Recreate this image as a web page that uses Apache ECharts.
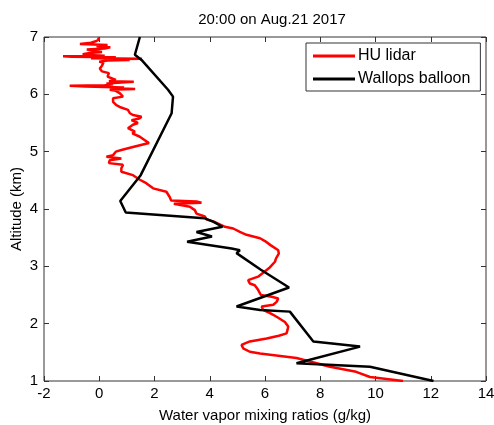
<!DOCTYPE html>
<html>
<head>
<meta charset="utf-8">
<script src="https://cdn.jsdelivr.net/npm/echarts@6/dist/echarts.min.js"></script>
<style>
  html, body { margin: 0; padding: 0; background: #fff; }
  #chart { width: 494px; height: 425px; }
</style>
</head>
<body>
<div id="chart"></div>
<script>
// HU lidar profile: altitude (km) and water vapor mixing ratio (g/kg)
const lidarAlt = [
  1.00, 1.07, 1.16, 1.25, 1.31, 1.40, 1.48, 1.51, 1.57, 1.60, 1.63, 1.69, 1.74, 1.79, 1.83, 1.90,
  1.95, 2.03, 2.12, 2.18, 2.24, 2.27, 2.30, 2.33, 2.38, 2.44, 2.47, 2.50, 2.59, 2.67, 2.70, 2.76,
  2.82, 2.91, 2.97, 3.08, 3.14, 3.22, 3.28, 3.37, 3.44, 3.49, 3.55, 3.60, 3.66, 3.69, 3.78, 3.82,
  3.87, 3.92, 3.98, 4.04, 4.06, 4.09, 4.11, 4.13, 4.15, 4.21, 4.30, 4.36, 4.45, 4.51, 4.59, 4.65,
  4.71, 4.77, 4.80, 4.85, 4.88, 4.91, 4.94, 4.97, 5.00, 5.03, 5.09, 5.15, 5.17, 5.20, 5.26, 5.32,
  5.35, 5.41, 5.44, 5.47, 5.50, 5.55, 5.58, 5.61, 5.64, 5.67, 5.73, 5.76, 5.78, 5.81, 5.87, 5.90,
  5.93, 5.96, 5.99, 6.02, 6.06, 6.08, 6.095, 6.105, 6.12, 6.135, 6.15, 6.16, 6.175, 6.19, 6.205, 6.22,
  6.23, 6.25, 6.28, 6.31, 6.34, 6.37, 6.40, 6.45, 6.50, 6.55, 6.57, 6.59, 6.60, 6.61, 6.62, 6.63,
  6.645, 6.655, 6.665, 6.675, 6.685, 6.70, 6.72, 6.74, 6.76, 6.78, 6.80, 6.82, 6.84, 6.86, 6.88, 6.90,
  6.93, 6.96, 6.99, 7.00
];
const lidarWv = [
  11.0, 9.8, 9.3, 8.35, 7.87, 7.14, 5.82, 5.45, 5.21, 5.2, 5.15, 5.45, 6.06, 6.5, 6.78, 6.82,
  6.84, 6.72, 6.42, 6.2, 5.93, 5.9, 5.88, 6.3, 6.42, 6.48, 6.24, 5.85, 5.75, 5.63, 5.45, 5.39,
  5.75, 5.99, 6.15, 6.36, 6.4, 6.5, 6.48, 6.2, 6.0, 5.82, 5.33, 5.09, 4.85, 4.55, 4.15, 3.88,
  3.82, 3.52, 3.46, 3.28, 3.04, 2.7, 3.7, 3.52, 2.6, 2.55, 2.43, 1.95, 1.7, 1.47, 1.22, 0.80,
  0.8, 0.86, 0.35, 0.38, 0.80, 0.26, 0.5, 0.5, 0.6, 0.80, 1.29, 1.8, 1.77, 1.65, 1.47, 1.2,
  1.29, 1.04, 1.11, 1.22, 1.4, 1.17, 1.45, 1.53, 1.22, 1.11, 1.04, 1.0, 0.74, 0.62, 0.5, 0.5,
  0.5, 0.86, 0.80, 0.74, 0.6, 0.38, 1.3, 0.5, 0.9, -0.5, -1.07, 0.2, 0.5, 0.26, 0.8, 1.25,
  0.35, 0.6, 0.62, 0.3, 0.3, 0.35, 0.1, 0.02, 0.1, 0.15, 0.0, 0.3, 1.1, 0.2, 1.55, -0.3,
  0.6, -1.0, -1.31, 0.2, -0.4, -0.6, -0.35, 0.1, -0.2, -0.45, 0.2, 0.4, -0.1, 0.3, -0.7, -0.3,
  -0.1, 0.0, -0.05, -0.04
];

// Wallops balloon sounding: altitude (km) and water vapor mixing ratio (g/kg)
const balloonAlt = [
  1.00, 1.25, 1.31, 1.34, 1.60, 1.69, 2.21, 2.24, 2.30, 2.63, 2.94, 3.23, 3.28, 3.31, 3.43, 3.52,
  3.60, 3.69, 3.78, 3.84, 3.94, 4.14, 4.59, 5.67, 5.96, 6.08, 6.60, 6.69, 7.00
];
const balloonWv = [
  12.1, 9.8, 7.14, 7.08, 9.44, 7.75, 6.9, 5.82, 4.97, 6.87, 5.85, 4.97, 5.09, 4.79, 3.18, 4.08,
  3.52, 4.46, 4.12, 3.8, 0.96, 0.76, 1.5, 2.62, 2.67, 2.49, 1.53, 1.29, 1.47
];

const xTicks = { min: -2, max: 14, interval: 2 };
const yTicks = { min: 1, max: 7, interval: 1 };

const seriesNames = ['HU lidar', 'Wallops balloon'];
const titleText = '20:00 on Aug.21 2017';
const xTitle = 'Water vapor mixing ratios (g/kg)';
const yTitle = 'Altitude (km)';

const pairs = (xs, ys) => xs.map((x, i) => [x, ys[i]]);

const font = 'Liberation Sans, Arial, sans-serif';
const frameColor = '#333';

const tickInside = { show: true, inside: true, length: 5, lineStyle: { color: frameColor, width: 1 } };
const noLine = { show: false, onZero: false };

const chart = echarts.init(document.getElementById('chart'), null, { renderer: 'canvas' });
chart.setOption({
  animation: false,
  backgroundColor: '#fff',
  title: {
    text: titleText,
    left: 267, top: 7, textAlign: 'center',
    textStyle: { fontFamily: font, fontSize: 15, fontWeight: 'normal', color: '#000' }
  },
  legend: {
    data: seriesNames,
    orient: 'vertical',
    left: 306, top: 43,
    padding: [5, 10, 4, 7],
    itemGap: 7,
    itemWidth: 42,
    itemHeight: 3,
    icon: 'rect',
    backgroundColor: '#fff',
    borderColor: '#333',
    borderWidth: 1,
    textStyle: { fontFamily: font, fontSize: 16, color: '#000', padding: [0, 0, 0, -2] }
  },
  grid: {
    left: 44, right: 8, top: 37, bottom: 44,
    outerBoundsMode: 'none',
    containLabel: false,
    show: true, borderColor: frameColor, borderWidth: 1, backgroundColor: '#fff'
  },
  xAxis: [
    {
      type: 'value', position: 'bottom', ...xTicks,
      name: xTitle, nameLocation: 'middle', nameGap: 27,
      nameTextStyle: { fontFamily: font, fontSize: 15, color: '#000' },
      axisLine: noLine,
      axisTick: tickInside,
      splitLine: { show: false },
      axisLabel: { fontFamily: font, fontSize: 15, color: '#000', margin: 5 }
    },
    {
      type: 'value', position: 'top', ...xTicks,
      axisLine: noLine, axisTick: tickInside,
      splitLine: { show: false }, axisLabel: { show: false }
    }
  ],
  yAxis: [
    {
      type: 'value', position: 'left', ...yTicks,
      name: yTitle, nameLocation: 'middle', nameGap: 20,
      nameMoveOverlap: false,
      nameTextStyle: { fontFamily: font, fontSize: 15, color: '#000' },
      axisLine: noLine,
      axisTick: tickInside,
      splitLine: { show: false },
      axisLabel: { fontFamily: font, fontSize: 15, color: '#000', margin: 6 }
    },
    {
      type: 'value', position: 'right', ...yTicks,
      axisLine: noLine, axisTick: tickInside,
      splitLine: { show: false }, axisLabel: { show: false }
    }
  ],
  series: [
    {
      name: seriesNames[0], type: 'line',
      data: pairs(lidarWv, lidarAlt),
      showSymbol: false, symbol: 'none',
      itemStyle: { color: '#ff0000' },
      lineStyle: { color: '#ff0000', width: 2.5 },
      z: 2
    },
    {
      name: seriesNames[1], type: 'line',
      data: pairs(balloonWv, balloonAlt),
      showSymbol: false, symbol: 'none',
      itemStyle: { color: '#000000' },
      lineStyle: { color: '#000000', width: 2.5 },
      z: 3
    }
  ]
});
</script>
</body>
</html>
